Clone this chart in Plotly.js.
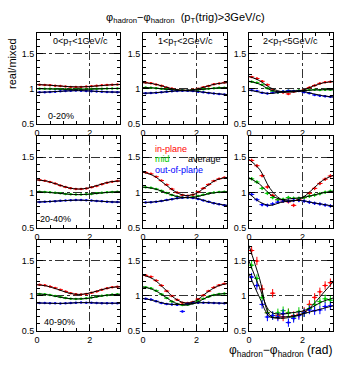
<!DOCTYPE html>
<html><head><meta charset="utf-8">
<script src="https://cdn.plot.ly/plotly-3.0.1.min.js"></script>
<style>html,body{margin:0;padding:0;background:#fff}#chart{width:357px;height:369px}</style>
</head><body><div id="chart"></div>
<script>
// bin centres of delta-phi (rad)
const phiBins = [0.098,0.295,0.491,0.687,0.884,1.080,1.276,1.473,1.669,1.865,2.062,2.258,2.454,2.651,2.847,3.043];
// points where the fitted curves are sampled
const phiFit = [0,0.393,0.785,1.178,1.571,1.963,2.356,2.749,3.142];

const ptLabels = ['0&lt;p<sub>T</sub>&lt;1GeV/c','1&lt;p<sub>T</sub>&lt;2GeV/c','2&lt;p<sub>T</sub>&lt;5GeV/c'];
const centLabels = ['0-20%','20-40%','40-90%'];
const yTicks = [0.5,1,1.5];
const xTicks = [0,2];

// in-plane data [centrality][pt]
const inPlane = [
 [[1.062,1.058,1.055,1.048,1.042,1.036,1.030,1.028,1.030,1.034,1.040,1.046,1.052,1.058,1.062,1.065],
  [1.092,1.083,1.064,1.047,1.022,1.006,0.987,0.983,0.979,0.991,1.002,1.026,1.044,1.068,1.079,1.091],
  [1.172,1.150,1.110,1.060,0.985,0.955,0.950,0.930,0.960,0.975,0.985,1.020,1.050,1.080,1.095,1.105]],
 [[1.178,1.168,1.150,1.128,1.100,1.078,1.060,1.052,1.050,1.058,1.075,1.095,1.118,1.140,1.155,1.163],
  [1.285,1.265,1.225,1.170,1.110,1.050,1.000,0.965,0.955,0.970,1.010,1.060,1.115,1.165,1.195,1.212],
  [1.455,1.380,1.240,1.080,0.960,0.900,0.880,0.870,0.820,0.900,0.930,0.990,1.060,1.130,1.190,1.235]],
 [[1.160,1.152,1.135,1.115,1.090,1.065,1.040,1.025,1.022,1.030,1.045,1.065,1.090,1.110,1.125,1.132],
  [1.295,1.275,1.220,1.150,1.070,1.000,0.945,0.905,0.900,0.915,0.955,1.010,1.070,1.120,1.155,1.175],
  [1.650,1.500,1.100,0.760,1.040,0.720,0.700,0.760,0.720,0.740,0.780,0.880,0.980,1.060,1.150,1.190]]
];
const midPlane = [
 [[1.005,1.003,1.002,1.000,0.998,0.996,0.995,0.996,0.997,0.998,1.000,1.002,1.004,1.006,1.007,1.008],
  [1.021,1.016,1.012,1.003,0.995,0.990,0.982,0.981,0.979,0.984,0.988,0.997,1.005,1.010,1.018,1.019],
  [1.105,1.090,1.060,1.010,0.970,0.950,0.965,0.975,0.970,0.980,0.975,0.985,0.990,0.985,0.990,0.988]],
 [[1.012,1.010,1.005,0.998,0.990,0.982,0.976,0.972,0.972,0.976,0.982,0.990,0.998,1.005,1.010,1.012],
  [1.075,1.068,1.050,1.025,0.995,0.965,0.945,0.930,0.930,0.938,0.952,0.970,0.988,1.000,1.008,1.012],
  [1.195,1.150,1.060,0.990,0.930,0.900,0.905,0.930,0.920,0.920,0.930,0.950,0.965,0.985,1.005,1.020]],
 [[1.030,1.025,1.015,1.000,0.985,0.970,0.962,0.958,0.960,0.967,0.978,0.990,1.002,1.012,1.020,1.024],
  [1.125,1.110,1.075,1.025,0.970,0.920,0.885,0.870,0.875,0.895,0.925,0.960,0.990,1.015,1.028,1.034],
  [1.440,1.250,0.980,0.760,0.720,0.760,0.790,0.760,0.700,0.780,0.760,0.820,0.880,0.920,0.960,0.940]]
];
const outPlane = [
 [[0.952,0.954,0.957,0.962,0.967,0.972,0.975,0.977,0.976,0.973,0.969,0.965,0.961,0.958,0.956,0.955],
  [0.940,0.942,0.946,0.952,0.960,0.967,0.972,0.975,0.974,0.970,0.962,0.953,0.944,0.935,0.928,0.922],
  [0.982,0.970,0.945,0.935,0.945,0.955,0.965,0.975,0.970,0.972,0.955,0.940,0.915,0.905,0.895,0.888]],
 [[0.868,0.870,0.874,0.879,0.884,0.888,0.892,0.894,0.894,0.891,0.887,0.882,0.877,0.872,0.868,0.866],
  [0.862,0.865,0.872,0.882,0.895,0.908,0.920,0.928,0.930,0.925,0.910,0.890,0.870,0.850,0.835,0.822],
  [0.975,0.900,0.830,0.820,0.840,0.865,0.880,0.880,0.890,0.890,0.880,0.865,0.850,0.840,0.825,0.812]],
 [[0.900,0.899,0.897,0.895,0.893,0.895,0.900,0.904,0.906,0.905,0.903,0.900,0.898,0.897,0.897,0.897],
  [0.962,0.950,0.925,0.900,0.885,0.880,0.875,0.780,0.890,0.900,0.905,0.905,0.903,0.900,0.898,0.895],
  [1.270,1.150,0.880,0.700,0.720,0.700,0.750,0.620,0.680,0.720,0.760,0.800,0.790,0.800,0.850,0.860]]
];
// fitted curves
const inFit = [
 [[1.063,1.056,1.045,1.034,1.029,1.034,1.046,1.058,1.064],
  [1.090,1.074,1.035,0.996,0.980,0.996,1.035,1.074,1.090],
  [1.180,1.120,1.020,0.965,0.955,0.975,1.035,1.085,1.105]],
 [[1.180,1.160,1.115,1.070,1.050,1.068,1.110,1.150,1.165],
  [1.290,1.240,1.130,1.020,0.960,0.985,1.085,1.180,1.215],
  [1.470,1.330,1.060,0.910,0.880,0.920,1.040,1.170,1.245]],
 [[1.162,1.140,1.095,1.045,1.022,1.040,1.080,1.118,1.133],
  [1.300,1.240,1.110,0.970,0.900,0.930,1.040,1.135,1.178],
  [1.720,1.250,0.720,0.680,0.700,0.740,0.860,1.030,1.200]]
];
const midFit = [
 [[1.005,1.002,0.999,0.996,0.996,0.998,1.002,1.006,1.008],
  [1.020,1.014,1.000,0.986,0.980,0.986,1.000,1.014,1.020],
  [1.110,1.070,0.990,0.955,0.965,0.975,0.985,0.990,0.990]],
 [[1.013,1.004,0.992,0.978,0.972,0.978,0.992,1.006,1.013],
  [1.078,1.058,1.010,0.955,0.930,0.940,0.975,1.002,1.012],
  [1.210,1.120,0.980,0.905,0.915,0.930,0.960,0.995,1.020]],
 [[1.031,1.018,0.990,0.965,0.958,0.968,0.995,1.016,1.025],
  [1.130,1.090,1.000,0.905,0.870,0.900,0.975,1.022,1.035],
  [1.500,1.120,0.780,0.740,0.760,0.780,0.840,0.920,0.970]]
];
const outFit = [
 [[0.952,0.957,0.965,0.973,0.977,0.972,0.964,0.957,0.955],
  [0.939,0.945,0.957,0.970,0.975,0.968,0.950,0.933,0.921],
  [0.985,0.955,0.935,0.955,0.970,0.968,0.935,0.905,0.885]],
 [[0.867,0.873,0.882,0.890,0.894,0.889,0.880,0.870,0.866],
  [0.860,0.868,0.887,0.913,0.930,0.922,0.880,0.843,0.820],
  [0.990,0.870,0.820,0.860,0.885,0.888,0.860,0.835,0.810]],
 [[0.900,0.897,0.894,0.897,0.905,0.905,0.899,0.897,0.897],
  [0.965,0.935,0.895,0.878,0.882,0.900,0.905,0.900,0.895],
  [1.320,0.980,0.700,0.700,0.710,0.740,0.780,0.820,0.860]]
];
// statistical error estimate per panel
const errPanel = [[0.004,0.006,0.012],[0.005,0.008,0.025],[0.006,0.012,0.06]];

const colDom = [[0.1036,0.3361],[0.4006,0.6359],[0.6975,0.9328]];
const rowDom = [[0.6640,0.9106],[0.3821,0.6314],[0.1030,0.3496]];
const halfBin = (phiBins[1]-phiBins[0])/2;
const font = 'Liberation Sans, Arial, Helvetica, sans-serif';

const series = [
  {data: inPlane, fit: inFit, color: '#ff0000'},
  {data: midPlane, fit: midFit, color: '#00cc00'},
  {data: outPlane, fit: outFit, color: '#0000ff'}
];

const traces = [];
const layout = {
  width: 357, height: 369,
  margin: {l:0, r:0, t:0, b:0},
  paper_bgcolor: '#fff', plot_bgcolor: '#fff',
  showlegend: false,
  font: {family: font, size: 9, color: '#000'},
  annotations: []
};

for (let r = 0; r < 3; r++) {
  for (let c = 0; c < 3; c++) {
    const k = r*3 + c + 1;
    const xa = 'x' + (k === 1 ? '' : k), ya = 'y' + (k === 1 ? '' : k);
    series.forEach(s => {
      traces.push({
        x: phiBins, y: s.data[r][c], xaxis: xa, yaxis: ya,
        type: 'scatter', mode: 'markers',
        marker: {size: 2.5, color: s.color},
        error_y: {type: 'constant', value: errPanel[r][c], color: s.color, thickness: 1, width: 0},
        error_x: {type: 'constant', value: halfBin, color: s.color, thickness: 1, width: 0},
        hoverinfo: 'skip'
      });
    });
    series.forEach(s => {
      traces.push({
        x: phiFit, y: s.fit[r][c], xaxis: xa, yaxis: ya,
        type: 'scatter', mode: 'lines',
        line: {color: '#000', width: 1, shape: 'spline'},
        hoverinfo: 'skip'
      });
    });
    const common = {
      ticks: 'inside', tickcolor: '#000', tickwidth: 1,
      showline: true, mirror: 'allticks', linecolor: '#000', linewidth: 1,
      showgrid: true, gridcolor: '#333', gridwidth: 1, griddash: 'dashdot',
      zeroline: false, tickfont: {family: font, size: 9, color: '#000'}
    };
    layout['xaxis' + (k === 1 ? '' : k)] = Object.assign({}, common, {
      domain: colDom[c], anchor: ya, range: [0, Math.PI],
      tickvals: xTicks, ticktext: xTicks.map(String), ticklen: 6,
      minor: {dtick: 0.5, tick0: 0, ticks: 'inside', ticklen: 3, tickcolor: '#000', showgrid: false}
    });
    layout['yaxis' + (k === 1 ? '' : k)] = Object.assign({}, common, {
      domain: rowDom[r], anchor: xa, range: [0.5, 1.8],
      tickvals: yTicks, ticktext: yTicks.map(String), ticklen: 6,
      minor: {dtick: 0.1, tick0: 0.5, ticks: 'inside', ticklen: 3, tickcolor: '#000', showgrid: false}
    });
  }
}

const ann = (x, y, text, opts) => layout.annotations.push(Object.assign({
  x: x/357, y: 1 - y/369, xref: 'paper', yref: 'paper', text: text,
  showarrow: false, font: {family: font, size: 9, color: '#000'},
  xanchor: 'center', yanchor: 'middle'
}, opts || {}));

ann(185, 18, 'φ<sub>hadron</sub>−φ<sub>hadron</sub>  (p<sub>T</sub>(trig)&gt;3GeV/c)', {font: {family: font, size: 11, color: '#000'}});
ann(12, 64, 'real/mixed', {textangle: -90, font: {family: font, size: 11, color: '#000'}});
ann(334, 351, 'φ<sub>hadron</sub>−φ<sub>hadron</sub> (rad)', {xanchor: 'right', font: {family: font, size: 12, color: '#000'}});
[80, 185, 290].forEach((x, i) => ann(x, 42, ptLabels[i]));
[[46,116],[38,219],[42,322]].forEach((p, i) => ann(p[0], p[1], centLabels[i], {xanchor: 'left'}));
ann(153, 149, 'in-plane', {xanchor: 'left', font: {family: font, size: 9, color: '#ff0000'}});
ann(153, 159, 'mid', {xanchor: 'left', font: {family: font, size: 9, color: '#00cc00'}});
ann(186, 159, 'average', {xanchor: 'left', font: {family: font, size: 9, color: '#000'}});
ann(153, 170, 'out-of-plane', {xanchor: 'left', font: {family: font, size: 9, color: '#0000ff'}});

Plotly.newPlot('chart', traces, layout, {displayModeBar: false, staticPlot: true});
</script></body></html>
